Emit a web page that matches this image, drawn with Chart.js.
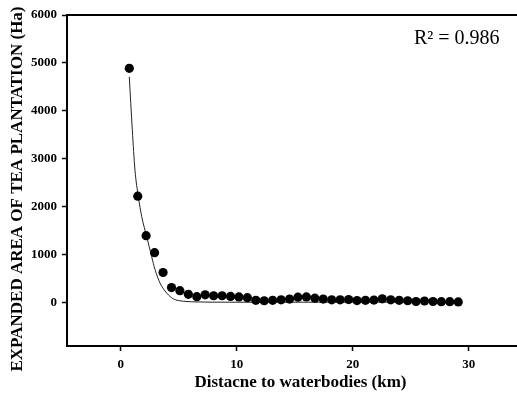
<!DOCTYPE html>
<html>
<head>
<meta charset="utf-8">
<script src="https://cdn.jsdelivr.net/npm/chart.js@4"></script>
<style>
  html, body { margin: 0; padding: 0; background: #fff; overflow: hidden; }
  #wrap { position: relative; width: 540px; height: 394px; }
</style>
</head>
<body>
<div id="wrap"><canvas id="fit"></canvas></div>
<script>
// Observed points: distance to waterbodies (km) vs expanded tea area (Ha)
const distance = [0.74, 1.47, 2.19, 2.92, 3.65, 4.38, 5.1, 5.83, 6.56, 7.28,
  8.01, 8.74, 9.47, 10.19, 10.92, 11.65, 12.37, 13.1, 13.83, 14.56,
  15.28, 16.01, 16.74, 17.46, 18.19, 18.92, 19.65, 20.37, 21.1, 21.83,
  22.55, 23.28, 24.01, 24.74, 25.46, 26.19, 26.92, 27.64, 28.37, 29.1];
const area = [4885, 2215, 1390, 1035, 620, 305, 240, 165, 115, 155,
  135, 135, 120, 110, 95, 40, 30, 40, 50, 65,
  105, 110, 85, 65, 50, 50, 55, 35, 40, 45,
  70, 50, 40, 30, 15, 25, 15, 10, 10, 5];

// fitted curve
const fitX = [0.74, 1.0, 1.23, 1.52, 1.81, 2.24, 2.67, 2.96, 3.39, 3.97, 4.54, 5.4, 6.75, 9, 12, 16, 20, 25, 29.1];
const fitY = [4710, 3600, 2760, 2205, 1790, 1370, 950, 680, 400, 190, 70, 20, 5, 0, 0, 0, 0, 0, 0];

const xTicks = [0, 10, 20, 30];
const yTicks = [0, 1000, 2000, 3000, 4000, 5000, 6000];
const rSquared = "R\u00B2 = 0.986";
const yTitle = "EXPANDED AREA OF TEA PLANTATION (Ha)";

const serif = "'Liberation Serif', 'Times New Roman', serif";

// R² note and the y title (the title sits a bit below the axis centre in the original)
const labels = {
  id: "labels",
  afterDraw(chart) {
    const ctx = chart.ctx;
    ctx.save();
    ctx.fillStyle = "#000";
    ctx.textBaseline = "middle";
    ctx.font = "20px " + serif;
    ctx.textAlign = "left";
    ctx.fillText(rSquared, 414, 39);
    ctx.translate(18, 189);
    ctx.rotate(-Math.PI / 2);
    ctx.textAlign = "center";
    ctx.font = "bold 17px " + serif;
    ctx.fillText(yTitle, 0, 0);
    ctx.restore();
  },
};

new Chart(document.getElementById("fit"), {
  type: "scatter",
  data: {
    datasets: [
      {
        label: "observed",
        data: distance.map((d, i) => ({ x: d, y: area[i] })),
        backgroundColor: "#000",
        borderWidth: 0,
        pointRadius: 4.6,
        order: 0,
      },
      {
        label: "fit",
        type: "line",
        data: fitX.map((d, i) => ({ x: d, y: fitY[i] })),
        borderColor: "#222",
        borderWidth: 1,
        pointRadius: 0,
        cubicInterpolationMode: "monotone",
        fill: false,
        order: 1,
      },
    ],
  },
  options: {
    responsive: true,
    maintainAspectRatio: false,
    animation: false,
    layout: { padding: { top: 15, right: 6, left: 0, bottom: 0 } },
    plugins: { legend: { display: false }, tooltip: { enabled: false } },
    scales: {
      x: {
        type: "linear",
        min: -4.63,
        max: 35.63,
        afterBuildTicks: (s) => { s.ticks = xTicks.map((v) => ({ value: v })); },
        afterFit: (s) => { s.height = 48; },
        grid: { drawOnChartArea: false, tickLength: 5, tickColor: "#000", tickWidth: 1.5 },
        border: { color: "#000", width: 2 },
        ticks: {
          color: "#000", padding: 6, maxRotation: 0,
          callback: (v) => String(v),
          font: { family: serif, size: 13, weight: "bold" },
        },
        title: {
          display: true,
          text: "Distacne to waterbodies (km)",
          color: "#000",
          padding: { top: 0, bottom: 1 },
          font: { family: serif, size: 17, weight: "bold" },
        },
      },
      xTop: {
        type: "linear",
        position: "top",
        min: -4.63,
        max: 35.63,
        afterFit: (s) => { s.height = 0; },
        grid: { display: false, drawTicks: false },
        border: { color: "#000", width: 2 },
        ticks: { display: false },
      },
      y: {
        min: -915,
        max: 6000,
        afterBuildTicks: (s) => { s.ticks = yTicks.map((v) => ({ value: v })); },
        afterFit: (s) => { s.width = 67; },
        grid: { drawOnChartArea: false, tickLength: 5, tickColor: "#000", tickWidth: 1.5 },
        border: { color: "#000", width: 2 },
        ticks: {
          color: "#000", padding: 5,
          callback: (v) => String(v),
          font: { family: serif, size: 13, weight: "bold" },
        },
        title: { display: false },
      },
    },
  },
  plugins: [labels],
});
</script>
</body>
</html>
